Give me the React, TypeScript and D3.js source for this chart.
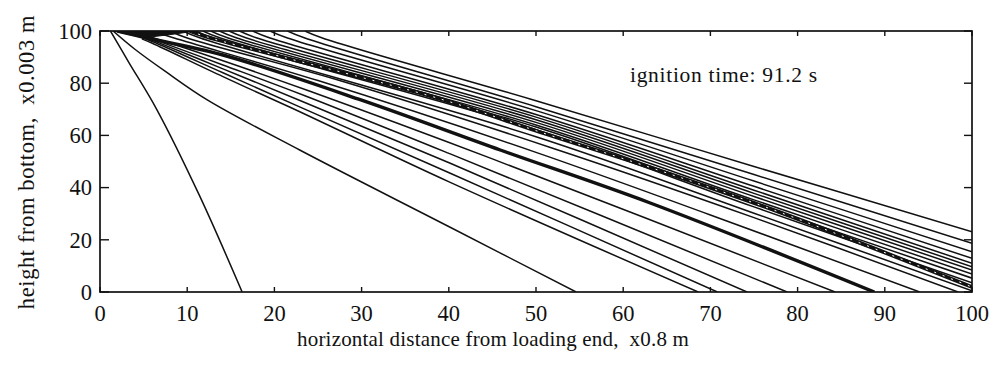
import React from "react";
import * as d3 from "d3";

type Pt = [number, number];

const xTicks = [0, 10, 20, 30, 40, 50, 60, 70, 80, 90, 100];
const yTicks = [0, 20, 40, 60, 80, 100];

// thin contour lines ending on the bottom axis
const steepLine: Pt[] = [[1.2, 100], [3.3, 88], [6.5, 70], [11.4, 37], [16.3, 0]];
const line54: Pt[] = [[1.5, 100], [4, 93], [7.5, 84.5], [12.3, 73.6], [22.9, 54.4], [40.1, 24.9], [54.6, 0]];
const line68: Pt[] = [[4.8, 97], [6, 95.3], [14.1, 82.5], [21.8, 70.8], [40.1, 42.1], [68.6, 0]];
const line71: Pt[] = [[4.8, 97.5], [6, 96], [14.1, 84], [22.5, 71.5], [40.1, 45.6], [70.8, 0]];
const line74: Pt[] = [[4.8, 98], [6, 96.5], [14.1, 85.5], [23, 73.3], [40.1, 49.4], [74.2, 0]];
const line79: Pt[] = [[4.8, 98.5], [6, 97], [14.1, 87], [23.5, 75.2], [40.1, 53], [78.8, 0]];
const line84: Pt[] = [[4.5, 99], [6, 97.5], [14.1, 88.6], [24, 77], [45, 51], [84.3, 0]];
const line94: Pt[] = [[6, 100], [8.5, 97.3], [25, 81], [50, 53.5], [70, 29.5], [94, 0]];
const line98: Pt[] = [[8, 100], [10, 97.3], [27, 81.5], [52, 55], [75, 28.5], [98.4, 0]];

// thin contour lines ending on the right axis
const right23: Pt[] = [[23.5, 100], [25.5, 97.3], [50, 73.3], [75, 48.1], [100, 23.1]];
const right19: Pt[] = [[21.5, 100], [23.5, 97.3], [50, 71], [75, 45], [100, 18.7]];
const right15: Pt[] = [[19.5, 100], [21.5, 97.3], [50, 69.5], [75, 42.5], [100, 15.4]];
const right13: Pt[] = [[17.5, 100], [19.5, 97.3], [50, 68], [75, 40.5], [100, 12.9]];
const right11: Pt[] = [[16, 100], [18, 97.3], [50, 67], [75, 39], [100, 11.0]];
const right10: Pt[] = [[14.8, 100], [16.8, 97.3], [50, 66], [75, 37.8], [100, 9.7]];
const right8: Pt[] = [[13.7, 100], [15.7, 97.3], [50, 65], [75, 36.6], [100, 8.4]];
const right7: Pt[] = [[12.7, 100], [14.7, 97.3], [50, 64], [75, 35.3], [100, 6.9]];
const right5: Pt[] = [[11.8, 100], [13.8, 97.3], [50, 63.2], [75, 34], [100, 5.3]];
const right4: Pt[] = [[11, 100], [13, 97.3], [50, 62.2], [75, 32.6], [100, 3.5]];
const right1: Pt[] = [[9.5, 100], [11.5, 97.3], [50, 59.5], [75, 30.2], [100, 0.5]];

// heavy lines
const thickLine: Pt[] = [[2, 100], [4.9, 97.7], [14.1, 90.8], [30, 73.5], [45.9, 54.4], [63.1, 34.1], [88.8, 0]];
const noisyBand: Pt[] = [[10.3, 100], [12.3, 97.7], [39, 74], [50, 61.8], [64.2, 46.5], [78, 30.5], [100, 1.9]];
const topWedge: Pt[] = [[1.5, 100], [11, 100], [8, 98.6], [5, 97.4]];

const thinLines: Pt[][] = [
  steepLine, line54, line68, line71, line74, line79, line84, line94, line98,
  right23, right19, right15, right13, right11, right10, right8, right7, right5, right4, right1,
];

const W = 999;
const H = 368;
const left = 100;
const right = 972;
const top = 31;
const bottom = 292;
const font = "'Liberation Serif', 'Times New Roman', serif";

export default function App() {
  const x = d3.scaleLinear().domain([0, 100]).range([left, right]);
  const y = d3.scaleLinear().domain([0, 100]).range([bottom, top]);
  const line = d3
    .line<Pt>()
    .x((d) => x(d[0]))
    .y((d) => y(d[1]))
    .curve(d3.curveCatmullRom.alpha(0.5));
  const poly = d3
    .line<Pt>()
    .x((d) => x(d[0]))
    .y((d) => y(d[1]))
    .curve(d3.curveLinearClosed);

  return (
    <svg
      width={W}
      height={H}
      style={{ position: "absolute", left: 0, top: 0, background: "#fff" }}
      fontFamily={font}
    >
      <defs>
        <clipPath id="plot">
          <rect x={left} y={top} width={right - left} height={bottom - top} />
        </clipPath>
      </defs>
      <g clipPath="url(#plot)" fill="none" stroke="#111">
        {thinLines.map((pts, i) => (
          <path key={i} d={line(pts) || ""} strokeWidth={1.5} />
        ))}
        <path d={line(thickLine) || ""} strokeWidth={3.4} />
        <path d={line(noisyBand) || ""} strokeWidth={3.8} />
        <path d={line(noisyBand) || ""} strokeWidth={1} stroke="#fff" strokeDasharray="2 7" />
        <path d={poly(topWedge) || ""} fill="#111" stroke="#111" strokeWidth={1} />
      </g>
      {/* frame */}
      <rect
        x={left}
        y={top}
        width={right - left}
        height={bottom - top}
        fill="none"
        stroke="#111"
        strokeWidth={1.7}
      />
      {/* ticks */}
      <g stroke="#111" strokeWidth={1.4}>
        {xTicks.map((t) => (
          <g key={"x" + t}>
            <line x1={x(t)} x2={x(t)} y1={bottom} y2={bottom - 5} />
            <line x1={x(t)} x2={x(t)} y1={top} y2={top + 5} />
          </g>
        ))}
        {yTicks.map((t) => (
          <g key={"y" + t}>
            <line x1={left} x2={left + 9} y1={y(t)} y2={y(t)} />
            <line x1={right} x2={right - 8} y1={y(t)} y2={y(t)} />
          </g>
        ))}
      </g>
      {/* tick labels */}
      <g fill="#111" fontSize={22.5}>
        {xTicks.map((t) => (
          <text key={"xl" + t} x={x(t)} y={321} textAnchor="middle">
            {t}
          </text>
        ))}
        {yTicks.map((t) => (
          <text key={"yl" + t} x={92} y={y(t)} dy="0.35em" textAnchor="end">
            {t}
          </text>
        ))}
      </g>
      <text
        x={297}
        y={346}
        fontSize={21}
        letterSpacing={0.2}
        fill="#111"
        style={{ whiteSpace: "pre" }}
      >
        {"horizontal distance from loading end,  x0.8 m"}
      </text>
      <text
        transform={`translate(34,162) rotate(-90)`}
        textAnchor="middle"
        fontSize={22.5}
        letterSpacing={0.6}
        fill="#111"
        style={{ whiteSpace: "pre" }}
      >
        {"height from bottom,  x0.003 m"}
      </text>
      <text x={630} y={82} fontSize={21.5} letterSpacing={0.7} fill="#111" style={{ whiteSpace: "pre" }}>
        {"ignition time: 91.2 s"}
      </text>
    </svg>
  );
}
